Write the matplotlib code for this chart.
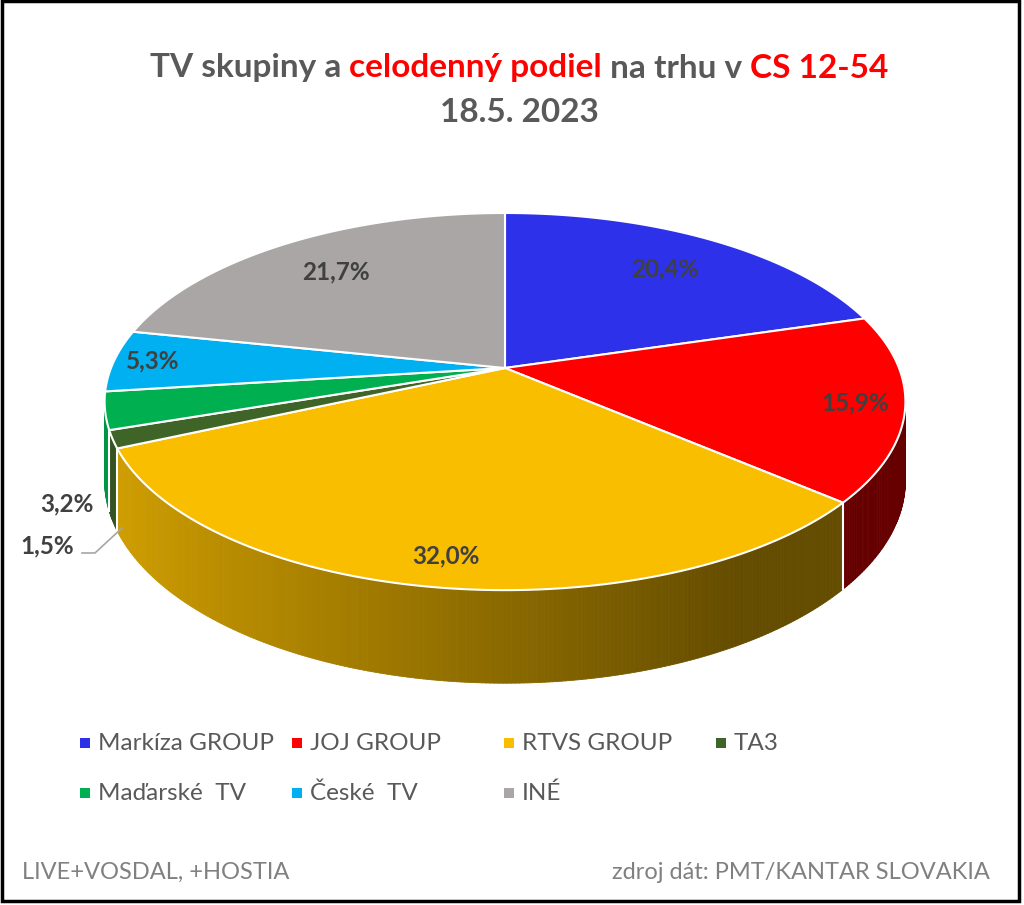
import numpy as np
import matplotlib
matplotlib.use('Agg')
import matplotlib.pyplot as plt
from matplotlib.patches import Polygon, Rectangle
from matplotlib.collections import PolyCollection

# data
labels = ['Markíza GROUP', 'JOJ GROUP', 'RTVS GROUP', 'TA3',
          'Maďarské  TV', 'České  TV', 'INÉ']
shares = [20.4, 15.9, 32.0, 1.5, 3.2, 5.3, 21.7]
colors = ['#2E31EA', '#FF0000', '#FABE00', '#3F6427',
          '#00AF50', '#00B0F0', '#AAA6A6']

FONT = 'Lato'
GRAY_TXT = '#595959'

# pie geometry in pixels (perspective disc)
CX, CY = 505, 368
A, B, K = 394, 182.6, 0.178
DEPTH = 76.5


def proj(t, r=1.0, down=0.0):
    u = r * np.sin(t)
    w = r * np.cos(t)
    d = 1 + K * w
    return CX + A * u / d, CY - B * w / d + down / d


def shade(t):
    return np.interp(np.sin(t), [-1, 0.5, 1], [0.86, 0.40, 0.40])


fig = plt.figure(figsize=(10.24, 9.05), dpi=100)
ax = fig.add_axes([0, 0, 1, 1])
ax.set_xlim(0, 1024)
ax.set_ylim(905, 0)
ax.axis('off')

frac = np.array(shares) / np.sum(shares)
edges = np.concatenate([[0], np.cumsum(frac)]) * 2 * np.pi

# side walls
quads, qcols, keys = [], [], []
for i in range(len(shares)):
    t0, t1 = edges[i], edges[i + 1]
    n = max(2, int(np.degrees(t1 - t0) / 0.5))
    ts = np.linspace(t0, t1, n + 1)
    base = np.array(matplotlib.colors.to_rgb(colors[i]))
    for a, b in zip(ts[:-1], ts[1:]):
        m = (a + b) / 2
        if np.cos(m) > 0.1:
            continue
        p1, p2 = proj(a), proj(b)
        p3, p4 = proj(b, down=DEPTH), proj(a, down=DEPTH)
        quads.append([p1, p2, p3, p4])
        qcols.append(tuple(base * shade(m)))
        keys.append(np.cos(m))
order = np.argsort(keys)[::-1]
pc = PolyCollection([quads[j] for j in order], facecolors=[qcols[j] for j in order],
                    edgecolors=[qcols[j] for j in order], linewidths=0.6)
ax.add_collection(pc)

for t in edges[1:-1]:
    if np.cos(t) < -K:
        x0, y0 = proj(t)
        x1, y1 = proj(t, down=DEPTH)
        ax.plot([x0, x1], [y0, y1], color='white', lw=1.5)

# top faces
for i in range(len(shares)):
    t0, t1 = edges[i], edges[i + 1]
    ts = np.linspace(t0, t1, max(3, int(np.degrees(t1 - t0))))
    pts = [proj(0, r=0)] + [proj(t) for t in ts]
    ax.add_patch(Polygon(pts, closed=True, facecolor=colors[i],
                         edgecolor='white', lw=1.5, joinstyle='round'))

# data labels
lab_r = [0.75, 0.88, 0.88, None, None, 0.9, 0.75]
for i, v in enumerate(shares):
    txt = f'{v:.1f}%'.replace('.', ',')
    if lab_r[i] is None:
        continue
    mid = (edges[i] + edges[i + 1]) / 2
    x, y = proj(mid, r=lab_r[i])
    ax.text(x, y, txt, ha='center', va='center', fontsize=17.5,
            fontweight='bold', color='#404040', family=FONT)

# small slices labelled outside
ax.text(67, 504, f'{shares[4]:.1f}%'.replace('.', ','), ha='center', va='center',
        fontsize=17.5, fontweight='bold', color='#404040', family=FONT)
ax.text(47, 546, f'{shares[3]:.1f}%'.replace('.', ','), ha='center', va='center',
        fontsize=17.5, fontweight='bold', color='#404040', family=FONT)
ax.plot([82, 95, 122], [553, 553, 528], color='#A6A6A6', lw=1.2)

# title with coloured parts
fig.canvas.draw()
rend = fig.canvas.get_renderer()
parts = [('TV skupiny a ', GRAY_TXT), ('celodenný podiel', '#FF0000'),
         (' na trhu v ', GRAY_TXT), ('CS 12-54', '#FF0000')]
objs = []
for s, c in parts:
    objs.append(ax.text(0, 68, s, ha='left', va='center', fontsize=24,
                        fontweight='bold', color=c, family=FONT))
widths = [o.get_window_extent(rend).width for o in objs]
x = 519 - sum(widths) / 2
for o, w in zip(objs, widths):
    o.set_x(x)
    x += w
ax.text(519, 112, '18.5. 2023', ha='center', va='center', fontsize=24,
        fontweight='bold', color=GRAY_TXT, family=FONT)

# legend
leg_x = [85, 297, 509, 721]
leg_y = [743, 793]
for i, lab in enumerate(labels):
    row, col = divmod(i, 4)
    ax.add_patch(Rectangle((leg_x[col] - 5, leg_y[row] - 5), 10, 10,
                           facecolor=colors[i], edgecolor='none'))
    ax.text(leg_x[col] + 13, leg_y[row], lab, ha='left', va='center',
            fontsize=17.5, color=GRAY_TXT, family=FONT)

# footer
ax.text(22, 872, 'LIVE+VOSDAL, +HOSTIA', ha='left', va='center',
        fontsize=17, color='#808080', family=FONT)
ax.text(990, 872, 'zdroj dát: PMT/KANTAR SLOVAKIA', ha='right', va='center',
        fontsize=17, color='#808080', family=FONT)

# frame
ax.add_patch(Rectangle((1.5, 1.5), 1017, 899, fill=False,
                       edgecolor='black', lw=2.5))

fig.savefig('out.png', dpi=100)
